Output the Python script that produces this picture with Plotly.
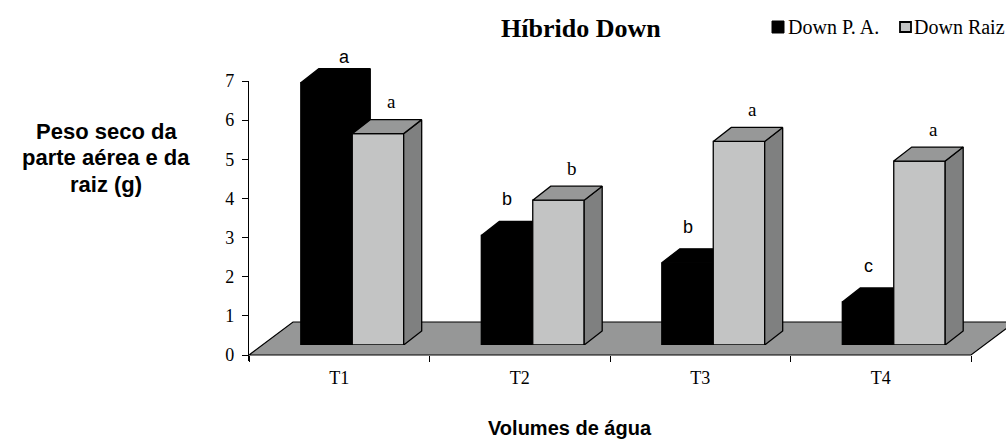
import plotly.graph_objects as go

# ---- data -------------------------------------------------------------
categories = ["T1", "T2", "T3", "T4"]
down_pa = [6.7, 2.8, 2.1, 1.1]          # shoot dry weight (g)
down_raiz = [5.4, 3.7, 5.2, 4.7]        # root dry weight (g)
letters_pa = ["a", "b", "b", "c"]
letters_raiz = ["a", "b", "a", "a"]
series_names = ["Down P. A.", "Down Raiz"]
y_ticks = [0, 1, 2, 3, 4, 5, 6, 7]
y_title_lines = ["Peso seco da", "parte aérea e da", "raiz (g)"]

# ---- geometry (pixels) -----------------------------------------------
W, H = 1006, 442
AX_LEFT = 249            # x pixel of the value axis
FLOOR_FRONT = 355        # y pixel of the floor's front edge (value 0)
Y_TOP = 81               # y pixel of the top tick
UNIT_X = 180.5           # pixels per category
UNIT_Y = (FLOOR_FRONT - Y_TOP) / 7.0   # pixels per gram
PLANE_DX, PLANE_DY = 13, 10            # shift of the bar plane behind the front
BAR_DX, BAR_DY = 18, 14                # bar depth
FLOOR_DX, FLOOR_DY = 44, 33            # floor depth
BAR_W = 0.285                          # bar width in category units
AXIS_OVERHANG = 6                      # value axis runs a little below zero

SERIF = "Liberation Serif, Times New Roman, serif"
SANS = "Liberation Sans, Arial, sans-serif"
C_LIGHT_FRONT = "#c3c4c4"
C_LIGHT_TOP = "#979898"
C_LIGHT_SIDE = "#7f8080"
C_FLOOR = "#969797"


def fx(px):
    return px / W


def fy(py):
    return 1 - py / H


DX = BAR_DX / UNIT_X
DY = BAR_DY / UNIT_Y


def faces(values, offset):
    """Top and side polygons of each bar, in bar-plane data units."""
    tx, ty, sx, sy = [], [], [], []
    for i, v in enumerate(values):
        xl = i + offset
        xr = xl + BAR_W
        tx += [xl, xr, xr + DX, xl + DX, xl, None]
        ty += [v, v, v + DY, v + DY, v, None]
        sx += [xr, xr + DX, xr + DX, xr, xr, None]
        sy += [0, DY, v + DY, v, 0, None]
    return (tx, ty), (sx, sy)


fig = go.Figure()

series = [
    (down_pa, -BAR_W, "#000000", "#000000", "#000000", "x2", "y2", series_names[0]),
    (down_raiz, 0.0, C_LIGHT_FRONT, C_LIGHT_TOP, C_LIGHT_SIDE, "x3", "y3", series_names[1]),
]

for vals, off, c_front, c_top, c_side, xa, ya, name in series:
    fig.add_trace(go.Bar(
        x=list(range(len(categories))), y=vals, width=BAR_W, offset=off,
        marker=dict(color=c_front, line=dict(color="black", width=1.3)),
        name=name, xaxis=xa, yaxis=ya, showlegend=False, hoverinfo="skip",
    ))
    (tx, ty), (sx, sy) = faces(vals, off)
    for px_, py_, col in ((sx, sy, c_side), (tx, ty, c_top)):
        fig.add_trace(go.Scatter(
            x=px_, y=py_, mode="lines", fill="toself", fillcolor=col,
            line=dict(color="black", width=1.3), xaxis=xa, yaxis=ya,
            showlegend=False, hoverinfo="skip",
        ))

# ---- floor --------------------------------------------------------------
fdx, fdy = FLOOR_DX / UNIT_X, FLOOR_DY / UNIT_Y
x_lo, x_hi = -0.5, len(categories) - 0.5
floor_path = (f"M{x_lo},0 L{x_hi},0 L{x_hi + fdx},{fdy} "
              f"L{x_lo + fdx},{fdy} Z")
shapes = [dict(type="path", path=floor_path, xref="x", yref="y",
               fillcolor=C_FLOOR, line=dict(color="black", width=1.2),
               layer="below")]

# ---- legend swatches ----------------------------------------------------
shapes += [
    dict(type="rect", xref="paper", yref="paper", x0=fx(772), x1=fx(784),
         y0=fy(33), y1=fy(21), fillcolor="black", line=dict(color="black", width=1)),
    dict(type="rect", xref="paper", yref="paper", x0=fx(900), x1=fx(911),
         y0=fy(32), y1=fy(22), fillcolor=C_LIGHT_FRONT,
         line=dict(color="black", width=1.8)),
]


def note(x, y, text, font, xanchor="center", **kw):
    return dict(x=x, y=y, text=text, showarrow=False, font=font,
                xanchor=xanchor, yanchor="middle", **kw)


annotations = []
# significance letters
label_cap = (FLOOR_FRONT - PLANE_DY - 57) / UNIT_Y
for i, (v, t) in enumerate(zip(down_pa, letters_pa)):
    y = v + 36 / UNIT_Y
    capped = y > label_cap
    annotations.append(note(
        i - BAR_W / 2, min(y, label_cap), t,
        dict(family=SANS, size=18, color="black"),
        xref="x2", yref="y2", xshift=BAR_DX if capped else 0,
    ))
for i, (v, t) in enumerate(zip(down_raiz, letters_raiz)):
    annotations.append(note(
        i + BAR_W / 2, v, t, dict(family=SERIF, size=19, color="black"),
        xref="x3", yref="y3", xshift=14, yshift=32,
    ))

# titles and legend entries
annotations += [
    note(fx(581), fy(28), "<b>Híbrido Down</b>",
         dict(family=SERIF, size=26, color="black"), xref="paper", yref="paper"),
    note(fx(570), fy(428), "<b>Volumes de água</b>",
         dict(family=SANS, size=20, color="black"), xref="paper", yref="paper"),
    note(fx(786), fy(27), series_names[0], dict(family=SERIF, size=20, color="black"),
         xanchor="left", xref="paper", yref="paper"),
    note(fx(912), fy(27), series_names[1], dict(family=SERIF, size=20, color="black"),
         xanchor="left", xref="paper", yref="paper"),
]
for k, line in enumerate(y_title_lines):
    annotations.append(note(
        fx(106), fy(131 + 26.5 * k), f"<b>{line}</b>",
        dict(family=SANS, size=22, color="black"), xref="paper", yref="paper",
    ))

hidden = dict(visible=False, showgrid=False, zeroline=False, fixedrange=True)
plane_x_range = [-0.5, -0.5 + (W - AX_LEFT - PLANE_DX) / UNIT_X]
plane_y_range = [0, (FLOOR_FRONT - PLANE_DY) / UNIT_Y]
plane_x_dom = [fx(AX_LEFT + PLANE_DX), 1]
plane_y_dom = [fy(FLOOR_FRONT - PLANE_DY), 1]

fig.update_layout(
    width=W, height=H,
    margin=dict(l=0, r=0, t=0, b=0, autoexpand=False),
    paper_bgcolor="white", plot_bgcolor="rgba(0,0,0,0)",
    barmode="overlay", showlegend=False,
    shapes=shapes, annotations=annotations,
    xaxis=dict(
        domain=[fx(AX_LEFT), 1], range=[-0.5, -0.5 + (W - AX_LEFT) / UNIT_X],
        anchor="free", position=fy(FLOOR_FRONT), automargin=False,
        tickmode="array", tickvals=list(range(len(categories))), ticktext=categories,
        ticks="", showline=False, showgrid=False, zeroline=False,
        tickfont=dict(family=SERIF, size=18, color="black"),
        ticklabelstandoff=10,
        minor=dict(tickvals=[k - 0.5 for k in range(len(categories) + 1)],
                   ticks="outside", ticklen=6, tickcolor="black", tickwidth=1,
                   showgrid=False),
    ),
    yaxis=dict(
        domain=[fy(FLOOR_FRONT + AXIS_OVERHANG), fy(Y_TOP)],
        range=[-AXIS_OVERHANG / UNIT_Y, 7], anchor="x", automargin=False,
        tickmode="array", tickvals=y_ticks,
        ticks="outside", ticklen=6, tickcolor="black", tickwidth=1,
        showline=True, linecolor="black", linewidth=1.3,
        showgrid=False, zeroline=False,
        tickfont=dict(family=SERIF, size=18, color="black"),
        ticklabelstandoff=4,
    ),
    xaxis2=dict(domain=plane_x_dom, range=plane_x_range, anchor="y2", **hidden),
    yaxis2=dict(domain=plane_y_dom, range=plane_y_range, anchor="x2", **hidden),
    xaxis3=dict(domain=plane_x_dom, range=plane_x_range, anchor="y3", **hidden),
    yaxis3=dict(domain=plane_y_dom, range=plane_y_range, anchor="x3", **hidden),
)

fig.write_html("out.html")
